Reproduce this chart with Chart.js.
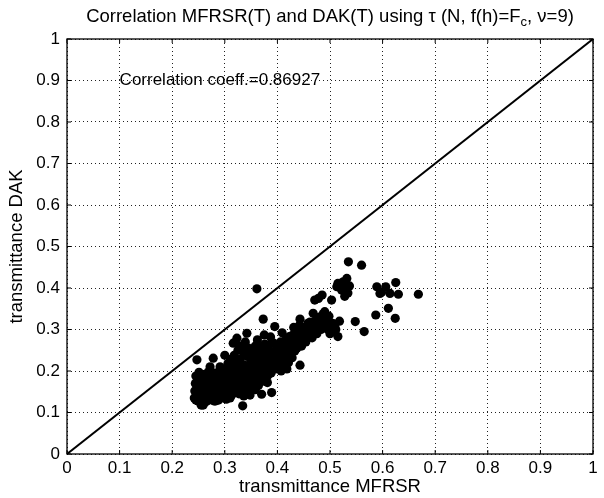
<!DOCTYPE html>
<html>
<head>
<meta charset="utf-8">
<script src="https://cdn.jsdelivr.net/npm/chart.js@4/dist/chart.umd.min.js"></script>
<style>
  html, body { margin: 0; padding: 0; background: #fff; }
</style>
</head>
<body>
<canvas id="corrChart" width="604" height="498"></canvas>
<script>
// values: [transmittance MFRSR, transmittance DAK]
const scatterPoints = [
    // dense lower-left cluster
    [0.242, 0.135], [0.243, 0.152], [0.244, 0.17], [0.245, 0.188], [0.246, 0.145], [0.247, 0.227],
    [0.248, 0.16], [0.249, 0.128], [0.25, 0.178], [0.251, 0.197], [0.252, 0.14], [0.253, 0.155],
    [0.254, 0.165], [0.255, 0.118], [0.256, 0.185], [0.257, 0.132], [0.258, 0.148], [0.259, 0.118],
    [0.26, 0.172], [0.261, 0.158], [0.262, 0.192], [0.263, 0.138], [0.264, 0.126], [0.265, 0.165],
    [0.266, 0.15], [0.267, 0.18], [0.268, 0.142], [0.269, 0.198], [0.27, 0.13], [0.271, 0.162],
    [0.272, 0.21], [0.273, 0.148], [0.274, 0.175], [0.275, 0.136], [0.276, 0.188], [0.277, 0.155],
    [0.278, 0.231], [0.279, 0.168], [0.28, 0.142], [0.281, 0.195], [0.282, 0.128], [0.283, 0.158],
    [0.284, 0.177], [0.285, 0.147], [0.286, 0.165], [0.287, 0.138], [0.288, 0.186], [0.289, 0.155],
    [0.29, 0.2], [0.291, 0.21], [0.292, 0.145], [0.293, 0.17], [0.294, 0.135], [0.295, 0.16],
    [0.296, 0.182], [0.297, 0.15], [0.298, 0.193], [0.299, 0.14],
    [0.245, 0.13], [0.25, 0.15], [0.255, 0.172], [0.26, 0.14], [0.265, 0.188], [0.27, 0.155],
    [0.275, 0.17], [0.28, 0.128], [0.285, 0.182], [0.29, 0.162], [0.258, 0.128], [0.268, 0.13],
    [0.248, 0.178], [0.278, 0.145], [0.288, 0.13],
    // 0.30 - 0.35
    [0.30, 0.17], [0.301, 0.205], [0.302, 0.15], [0.303, 0.132], [0.304, 0.185], [0.305, 0.162],
    [0.306, 0.218], [0.307, 0.14], [0.308, 0.175], [0.309, 0.195], [0.31, 0.155], [0.311, 0.228],
    [0.312, 0.168], [0.313, 0.142], [0.314, 0.185], [0.315, 0.205], [0.316, 0.267], [0.317, 0.158],
    [0.318, 0.238], [0.319, 0.175], [0.32, 0.148], [0.321, 0.195], [0.322, 0.215], [0.323, 0.279],
    [0.324, 0.165], [0.325, 0.25], [0.326, 0.182], [0.327, 0.145], [0.328, 0.205], [0.329, 0.228],
    [0.33, 0.172], [0.331, 0.26], [0.332, 0.155], [0.333, 0.19], [0.334, 0.116], [0.335, 0.245],
    [0.336, 0.215], [0.337, 0.165], [0.338, 0.178], [0.339, 0.27], [0.34, 0.2], [0.341, 0.155],
    [0.342, 0.291], [0.343, 0.235], [0.344, 0.185], [0.345, 0.255], [0.346, 0.168], [0.347, 0.215],
    [0.348, 0.195], [0.349, 0.152],
    [0.305, 0.14], [0.31, 0.19], [0.315, 0.17], [0.32, 0.22], [0.325, 0.16], [0.33, 0.2],
    [0.335, 0.18], [0.34, 0.24], [0.345, 0.21], [0.32, 0.185], [0.31, 0.135], [0.328, 0.26],
    [0.30, 0.238], [0.336, 0.14], [0.348, 0.142],
    // 0.35 - 0.40
    [0.35, 0.225], [0.351, 0.175], [0.352, 0.248], [0.353, 0.2], [0.354, 0.16], [0.355, 0.235],
    [0.356, 0.185], [0.357, 0.212], [0.358, 0.26], [0.359, 0.17], [0.36, 0.228], [0.361, 0.398],
    [0.362, 0.195], [0.363, 0.245], [0.364, 0.165], [0.365, 0.215], [0.366, 0.258], [0.367, 0.18],
    [0.368, 0.232], [0.369, 0.205], [0.37, 0.144], [0.371, 0.25], [0.372, 0.19], [0.373, 0.325],
    [0.374, 0.222], [0.375, 0.287], [0.376, 0.265], [0.377, 0.175], [0.378, 0.24], [0.379, 0.205],
    [0.38, 0.255], [0.381, 0.215], [0.382, 0.19], [0.383, 0.235], [0.384, 0.262], [0.385, 0.205],
    [0.386, 0.228], [0.388, 0.195], [0.389, 0.148], [0.39, 0.245], [0.391, 0.215], [0.392, 0.268],
    [0.393, 0.23], [0.395, 0.307], [0.396, 0.205], [0.397, 0.25], [0.398, 0.225], [0.399, 0.26],
    [0.358, 0.155], [0.362, 0.275], [0.387, 0.282], [0.381, 0.172],
    // 0.40 - 0.45
    [0.40, 0.235], [0.401, 0.21], [0.403, 0.255], [0.404, 0.225], [0.406, 0.27], [0.407, 0.2],
    [0.408, 0.245], [0.41, 0.23], [0.412, 0.262], [0.413, 0.215], [0.415, 0.25], [0.416, 0.275],
    [0.418, 0.235], [0.42, 0.26], [0.421, 0.22], [0.423, 0.283], [0.424, 0.245], [0.426, 0.27],
    [0.427, 0.285], [0.428, 0.232], [0.43, 0.262], [0.432, 0.29], [0.433, 0.248], [0.435, 0.275],
    [0.437, 0.255], [0.438, 0.295], [0.44, 0.268], [0.442, 0.31], [0.443, 0.325], [0.443, 0.214],
    [0.444, 0.28], [0.446, 0.26], [0.448, 0.298],
    [0.409, 0.292], [0.418, 0.205], [0.431, 0.305],
    // 0.45 - 0.52
    [0.45, 0.285], [0.452, 0.305], [0.454, 0.27], [0.456, 0.299], [0.458, 0.315], [0.46, 0.285],
    [0.462, 0.318], [0.464, 0.3], [0.466, 0.28], [0.468, 0.339], [0.47, 0.305], [0.471, 0.371],
    [0.473, 0.322], [0.475, 0.29], [0.476, 0.31], [0.478, 0.375], [0.48, 0.33], [0.481, 0.319],
    [0.483, 0.3], [0.485, 0.383], [0.487, 0.338], [0.49, 0.343], [0.492, 0.31], [0.494, 0.323],
    [0.496, 0.3], [0.498, 0.332], [0.5, 0.29], [0.503, 0.371], [0.503, 0.295], [0.505, 0.315],
    [0.509, 0.311], [0.511, 0.3], [0.513, 0.403], [0.515, 0.411], [0.515, 0.283], [0.518, 0.32],
    // upper right
    [0.522, 0.395], [0.525, 0.415], [0.528, 0.38], [0.53, 0.4], [0.532, 0.423], [0.534, 0.388],
    [0.535, 0.463], [0.537, 0.405], [0.548, 0.319], [0.56, 0.455], [0.565, 0.295], [0.587, 0.335],
    [0.589, 0.403], [0.595, 0.387], [0.598, 0.39], [0.606, 0.403], [0.611, 0.351], [0.614, 0.387],
    [0.624, 0.327], [0.625, 0.413], [0.63, 0.385], [0.668, 0.385]
];

const diagonal = [[0, 0], [1, 1]];
const tickValues = [0, 0.1, 0.2, 0.3, 0.4, 0.5, 0.6, 0.7, 0.8, 0.9, 1];

const titleParts = ["Correlation MFRSR(T) and DAK(T) using \u03C4 (N, f(h)=F", "c", ", \u03BD=9)"];
const coeffText = "Correlation coeff.=0.86927";
const xTitle = "transmittance MFRSR";
const yTitle = "transmittance DAK";

const fontFamily = "'Liberation Sans', Arial, Helvetica, sans-serif";

// title with subscript, annotation, box and inward ticks (matlab look)
const matlabDecor = {
    id: "matlabDecor",
    afterDraw(chart) {
        const ctx = chart.ctx;
        const area = chart.chartArea;
        const xs = chart.scales.x;
        const ys = chart.scales.y;
        ctx.save();

        // box
        ctx.strokeStyle = "#000";
        ctx.lineWidth = 1.3;
        ctx.strokeRect(area.left, area.top, area.right - area.left, area.bottom - area.top);

        // inward ticks
        ctx.lineWidth = 1;
        ctx.beginPath();
        tickValues.forEach((v) => {
            const px = xs.getPixelForValue(v);
            ctx.moveTo(px, area.bottom); ctx.lineTo(px, area.bottom - 4);
            ctx.moveTo(px, area.top); ctx.lineTo(px, area.top + 4);
            const py = ys.getPixelForValue(v);
            ctx.moveTo(area.left, py); ctx.lineTo(area.left + 4, py);
            ctx.moveTo(area.right, py); ctx.lineTo(area.right - 4, py);
        });
        ctx.stroke();

        // title
        ctx.fillStyle = "#000";
        ctx.textBaseline = "alphabetic";
        const big = "18.5px " + fontFamily;
        const small = "13px " + fontFamily;
        ctx.font = big;
        const w0 = ctx.measureText(titleParts[0]).width;
        const w2 = ctx.measureText(titleParts[2]).width;
        ctx.font = small;
        const w1 = ctx.measureText(titleParts[1]).width;
        let tx = (area.left + area.right) / 2 - (w0 + w1 + w2) / 2;
        const ty = 22;
        ctx.font = big;
        ctx.fillText(titleParts[0], tx, ty);
        tx += w0;
        ctx.font = small;
        ctx.fillText(titleParts[1], tx, ty + 4);
        tx += w1;
        ctx.font = big;
        ctx.fillText(titleParts[2], tx, ty);

        // correlation text
        ctx.font = "17px " + fontFamily;
        ctx.textBaseline = "middle";
        ctx.fillText(coeffText, xs.getPixelForValue(0.1), ys.getPixelForValue(0.9));

        ctx.restore();
    }
};

const ctx = document.getElementById("corrChart").getContext("2d");

new Chart(ctx, {
    data: {
        datasets: [
            {
                type: "scatter",
                data: scatterPoints.map((p) => ({ x: p[0], y: p[1] })),
                pointRadius: 4.6,
                pointHoverRadius: 4.6,
                backgroundColor: "#000",
                borderWidth: 0,
            },
            {
                type: "line",
                data: diagonal.map((p) => ({ x: p[0], y: p[1] })),
                borderColor: "#000",
                borderWidth: 2,
                pointRadius: 0,
                fill: false,
            },
        ],
    },
    options: {
        responsive: false,
        animation: false,
        layout: { padding: { top: 39, right: 11, left: 0, bottom: 0 } },
        plugins: {
            legend: { display: false },
            tooltip: { enabled: false },
        },
        scales: {
            x: {
                type: "linear",
                min: 0,
                max: 1,
                afterFit: (scale) => { scale.height = 44; },
                afterBuildTicks: (scale) => { scale.ticks = tickValues.map((v) => ({ value: v })); },
                grid: { color: "#222", lineWidth: 1, drawTicks: false },
                border: { display: false, dash: [1, 3] },
                ticks: {
                    color: "#000",
                    padding: 4,
                    font: { family: fontFamily, size: 17 },
                    callback: (v) => String(+v.toFixed(1)),
                },
                title: {
                    display: true,
                    text: xTitle,
                    color: "#000",
                    padding: { top: 0, bottom: 0 },
                    font: { family: fontFamily, size: 18.5 },
                },
            },
            y: {
                type: "linear",
                min: 0,
                max: 1,
                afterFit: (scale) => { scale.width = 67; },
                afterBuildTicks: (scale) => { scale.ticks = tickValues.map((v) => ({ value: v })); },
                grid: { color: "#222", lineWidth: 1, drawTicks: false },
                border: { display: false, dash: [1, 3] },
                ticks: {
                    color: "#000",
                    padding: 7,
                    font: { family: fontFamily, size: 17 },
                    callback: (v) => String(+v.toFixed(1)),
                },
                title: {
                    display: true,
                    text: yTitle,
                    color: "#000",
                    padding: { top: 6, bottom: 0 },
                    font: { family: fontFamily, size: 18.5 },
                },
            },
        },
    },
    plugins: [matlabDecor],
});
</script>
</body>
</html>
